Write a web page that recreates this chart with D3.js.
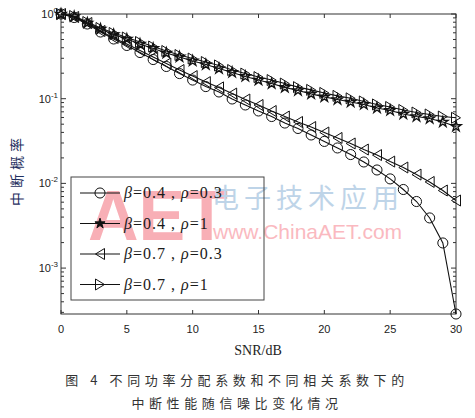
<!DOCTYPE html>
<html>
<head>
<meta charset="utf-8">
<script src="https://cdn.jsdelivr.net/npm/d3@7"></script>
<style>
  body { margin: 0; background: #fff; }
  svg { display: block; }
</style>
</head>
<body>
<svg id="chart"></svg>
<script>
var w = 475;
var h = 418;

var snr = d3.range(0, 31);

var s1 = [1.000, 0.909, 0.762, 0.613, 0.507, 0.425, 0.351, 0.290, 0.240, 0.198,
  0.166, 0.139, 0.120, 0.0992, 0.0843, 0.0716, 0.0616, 0.0516, 0.0445, 0.0373,
  0.0313, 0.0262, 0.0219, 0.0179, 0.0144, 0.0113, 0.00847, 0.00611, 0.00391, 0.00198,
  0.000287];
var s2 = [1.000, 0.934, 0.783, 0.665, 0.573, 0.507, 0.442, 0.392, 0.346, 0.311,
  0.279, 0.253, 0.227, 0.204, 0.183, 0.166, 0.151, 0.136, 0.125, 0.114,
  0.105, 0.0978, 0.0914, 0.0855, 0.0777, 0.0726, 0.0660, 0.0616, 0.0584, 0.0531,
  0.0470];
var s3 = [1.000, 0.922, 0.783, 0.630, 0.521, 0.442, 0.371, 0.311, 0.260, 0.218,
  0.185, 0.157, 0.136, 0.115, 0.0978, 0.0843, 0.0716, 0.0616, 0.0531, 0.0463,
  0.0399, 0.0344, 0.0296, 0.0251, 0.0216, 0.0181, 0.0154, 0.0127, 0.0104, 0.00824,
  0.00628];
var s4 = [1.000, 0.947, 0.804, 0.684, 0.597, 0.528, 0.467, 0.413, 0.366, 0.328,
  0.298, 0.271, 0.247, 0.218, 0.198, 0.180, 0.166, 0.151, 0.137, 0.127,
  0.117, 0.108, 0.101, 0.0927, 0.0855, 0.0798, 0.0736, 0.0687, 0.0651, 0.0616,
  0.0595];

var xTicks = [0, 5, 10, 15, 20, 25, 30];
var yTicks = [1, 0.1, 0.01, 0.001];
var yTickExp = ['0', '-1', '-2', '-3'];

var series = [
  {beta: '0.4', rho: '0.3', values: s1, marker: 'circle'},
  {beta: '0.4', rho: '1', values: s2, marker: 'star'},
  {beta: '0.7', rho: '0.3', values: s3, marker: 'left'},
  {beta: '0.7', rho: '1', values: s4, marker: 'right'}
];

// plot box (note: "top" is reserved on window, so use prefixed names)
var pL = 61, pR = 456, pT = 14, pB = 314;

var x = d3.scaleLinear().domain([0, 30]).range([pL, pR]);
var y = d3.scaleLog().domain([0.000287, 1]).range([pB, pT]);

var svg = d3.select('#chart').attr('width', w).attr('height', h);

// watermark
var wm = svg.append('g').attr('class', 'watermark');
wm.append('text')
  .attr('x', 88).attr('y', 240)
  .style('font-family', 'Liberation Sans, Arial, sans-serif')
  .style('font-size', '70px')
  .style('font-weight', 'bold')
  .style('fill', 'rgb(248, 175, 182)')
  .text('AET');
wm.append('text')
  .attr('x', 212).attr('y', 208)
  .style('font-family', 'Noto Sans CJK SC, sans-serif')
  .style('font-size', '27px')
  .style('letter-spacing', '5px')
  .style('fill', 'rgb(190, 212, 232)')
  .text('电子技术应用');
wm.append('text')
  .attr('x', 213).attr('y', 239)
  .style('font-family', 'Liberation Sans, Arial, sans-serif')
  .style('font-size', '21px')
  .style('fill', 'rgb(250, 185, 192)')
  .text('www.ChinaAET.com');

// axes box
svg.append('rect')
  .attr('x', pL).attr('y', pT)
  .attr('width', pR - pL).attr('height', pB - pT)
  .style('fill', 'none')
  .style('stroke', '#333')
  .style('stroke-width', 1);

// x ticks
var tickG = svg.append('g').style('stroke', '#333').style('stroke-width', 1);
xTicks.forEach(function (t) {
  tickG.append('line').attr('x1', x(t)).attr('x2', x(t)).attr('y1', pB).attr('y2', pB - 4);
  tickG.append('line').attr('x1', x(t)).attr('x2', x(t)).attr('y1', pT).attr('y2', pT + 4);
});

// y ticks (major + minor)
var minor = [];
yTicks.forEach(function (d) {
  for (var k = 2; k <= 9; k++) {
    var v = d / 10 * k;
    if (v >= y.domain()[0]) minor.push(v);
  }
});
yTicks.forEach(function (t) {
  tickG.append('line').attr('x1', pL).attr('x2', pL + 5).attr('y1', y(t)).attr('y2', y(t));
  tickG.append('line').attr('x1', pR).attr('x2', pR - 5).attr('y1', y(t)).attr('y2', y(t));
});
minor.forEach(function (t) {
  tickG.append('line').attr('x1', pL).attr('x2', pL + 3).attr('y1', y(t)).attr('y2', y(t));
  tickG.append('line').attr('x1', pR).attr('x2', pR - 3).attr('y1', y(t)).attr('y2', y(t));
});

// tick labels
svg.selectAll('.xlab')
  .data(xTicks)
  .enter()
  .append('text')
  .attr('x', function (d) { return x(d); })
  .attr('y', 333)
  .attr('text-anchor', 'middle')
  .style('font-family', 'Liberation Sans, Arial, sans-serif')
  .style('font-size', '11px')
  .style('fill', '#222')
  .text(function (d) { return d; });

yTicks.forEach(function (t, i) {
  var g = svg.append('text')
    .attr('x', 58).attr('y', y(t) + 4)
    .attr('text-anchor', 'end')
    .style('font-family', 'Liberation Sans, Arial, sans-serif')
    .style('font-size', '11px')
    .style('fill', '#222');
  g.append('tspan').text('10');
  g.append('tspan')
    .attr('dy', -5)
    .style('font-size', '8px')
    .text(yTickExp[i]);
});

// axis titles
svg.append('text')
  .attr('x', 258).attr('y', 355)
  .attr('text-anchor', 'middle')
  .style('font-family', 'Liberation Serif, Times New Roman, serif')
  .style('font-size', '14px')
  .style('fill', '#222')
  .text('SNR/dB');

svg.append('text')
  .attr('transform', 'translate(22,170) rotate(-90)')
  .attr('text-anchor', 'middle')
  .style('font-family', 'Noto Sans CJK SC, sans-serif')
  .style('font-size', '14px')
  .style('letter-spacing', '4px')
  .style('fill', '#1f3060')
  .text('中断概率');

// markers
function markerPath(type) {
  if (type === 'circle') return d3.symbol().type(d3.symbolCircle).size(80)();
  if (type === 'star') return d3.symbol().type(d3.symbolStar).size(32)();
  if (type === 'left') return 'M-4.5,0L4.5,-5.5L4.5,5.5Z';
  return 'M4.5,0L-4.5,-5.5L-4.5,5.5Z';
}

var line = d3.line()
  .x(function (d, i) { return x(snr[i]); })
  .y(function (d) { return y(d); });

series.forEach(function (s) {
  svg.append('path')
    .datum(s.values)
    .attr('d', line)
    .style('fill', 'none')
    .style('stroke', '#111')
    .style('stroke-width', 1.1);

  svg.selectAll('.m-' + s.marker)
    .data(s.values)
    .enter()
    .append('path')
    .attr('class', 'm-' + s.marker)
    .attr('transform', function (d, i) { return 'translate(' + x(snr[i]) + ',' + y(d) + ')'; })
    .attr('d', markerPath(s.marker))
    .style('fill', 'none')
    .style('stroke', '#111')
    .style('stroke-width', s.marker === 'star' ? 1.4 : 1);
});

// legend
var lg = svg.append('g');
lg.append('rect')
  .attr('x', 71).attr('y', 177)
  .attr('width', 193).attr('height', 123)
  .style('fill', 'none')
  .style('stroke', '#444')
  .style('stroke-width', 1);

series.forEach(function (s, i) {
  var ly = 193 + i * 30.5;
  lg.append('line')
    .attr('x1', 80).attr('x2', 120).attr('y1', ly).attr('y2', ly)
    .style('stroke', '#111').style('stroke-width', 1.1);
  lg.append('path')
    .attr('transform', 'translate(100,' + ly + ')')
    .attr('d', markerPath(s.marker))
    .style('fill', s.marker === 'star' ? '#111' : 'none')
    .style('stroke', '#111')
    .style('stroke-width', 1);
  var t = lg.append('text')
    .attr('x', 124).attr('y', ly + 5)
    .style('font-family', 'Liberation Serif, Times New Roman, serif')
    .style('font-size', '16px')
    .style('letter-spacing', '1px')
    .style('fill', '#1a1a1a');
  t.append('tspan').style('font-style', 'italic').text('β');
  t.append('tspan').text('=' + s.beta + ' , ');
  t.append('tspan').style('font-style', 'italic').text('ρ');
  t.append('tspan').text('=' + s.rho);
});

// caption
var cap = ['图 4  不同功率分配系数和不同相关系数下的', '中断性能随信噪比变化情况'];
svg.selectAll('.cap')
  .data(cap)
  .enter()
  .append('text')
  .attr('x', 237)
  .attr('y', function (d, i) { return 385 + i * 23; })
  .attr('text-anchor', 'middle')
  .style('font-family', 'Noto Sans CJK SC, sans-serif')
  .style('font-size', '13px')
  .style('letter-spacing', '4.6px')
  .style('fill', '#333')
  .text(function (d) { return d; });
</script>
</body>
</html>
